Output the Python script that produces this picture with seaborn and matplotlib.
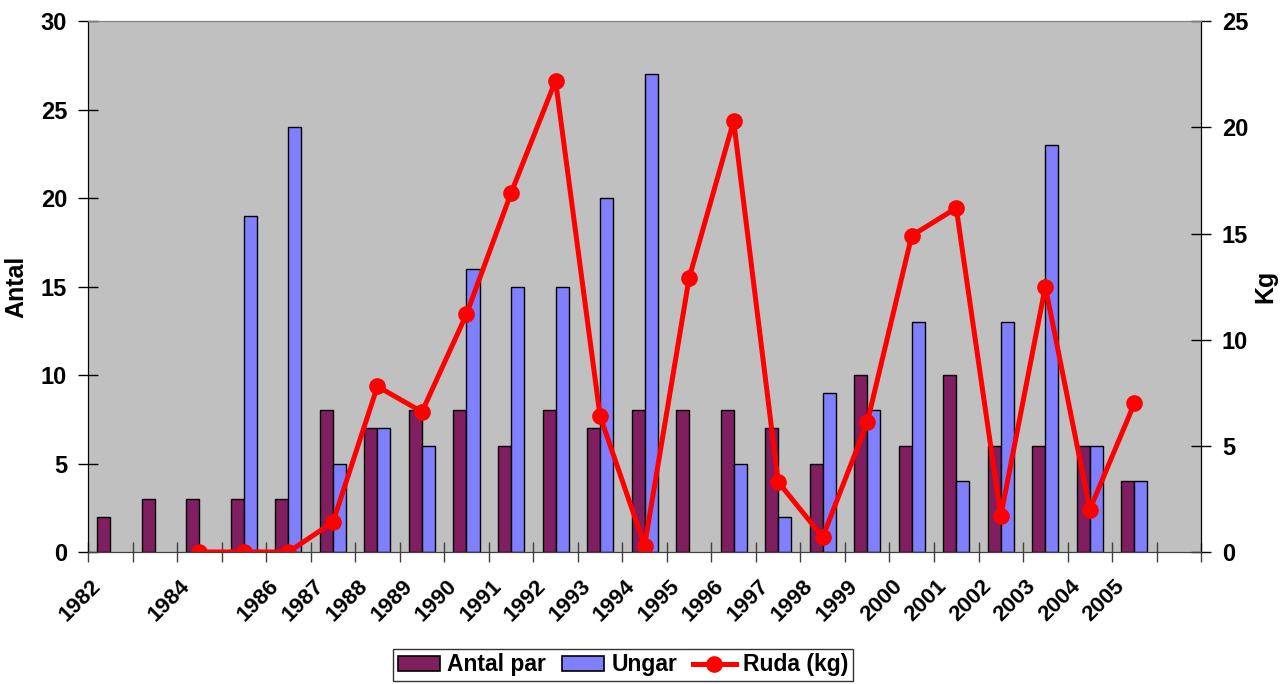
import matplotlib
matplotlib.use('Agg')
import matplotlib.pyplot as plt
import matplotlib.transforms as mtransforms
import pandas as pd
import seaborn as sns
from matplotlib.lines import Line2D
from matplotlib.patches import Patch

# Data (one slot per category, some slots have no label)
slots = list(range(25))
tick_labels = ['1982', '', '1984', '', '1986', '1987', '1988', '1989', '1990',
               '1991', '1992', '1993', '1994', '1995', '1996', '1997', '1998',
               '1999', '2000', '2001', '2002', '2003', '2004', '2005', '']
antal_par = [2, 3, 3, 3, 3, 8, 7, 8, 8, 6, 8, 7, 8, 8, 8, 7, 5, 10, 6, 10, 6, 6, 6, 4, None]
ungar = [None, None, None, 19, 24, 5, 7, 6, 16, 15, 15, 20, 27, None, 5, 2, 9, 8, 13, 4,
         13, 23, 6, 4, None]
ruda = [None, None, 0, 0, 0, 1.4, 7.8, 6.6, 11.2, 16.9, 22.2, 6.4, 0.3, 12.9, 20.3, 3.3,
        0.7, 6.1, 14.9, 16.2, 1.7, 12.5, 2.0, 7.0, None]

dark = '#7F1F5F'
blue = '#8080FF'
red = '#FF0000'

plt.rcParams['font.family'] = ['Liberation Sans', 'DejaVu Sans']
plt.rcParams['font.weight'] = 'bold'

df = pd.DataFrame({
    'slot': slots * 2,
    'serie': ['Antal par'] * len(slots) + ['Ungar'] * len(slots),
    'antal': pd.to_numeric(pd.Series(antal_par + ungar), errors='coerce'),
})

fig = plt.figure(figsize=(12.87, 6.84), dpi=100)
ax = fig.add_axes([0.0684, 0.193, 0.8649, 0.776])
ax.set_facecolor('#C0C0C0')

sns.barplot(data=df, x='slot', y='antal', hue='serie', order=slots,
            hue_order=['Antal par', 'Ungar'], palette=[dark, blue],
            width=0.585, saturation=1, edgecolor='black', linewidth=1,
            legend=False, ax=ax)

ax2 = ax.twinx()
sns.lineplot(x=slots, y=pd.Series(ruda, dtype=float), ax=ax2, color=red,
             linewidth=3.6, marker='o', markersize=12, markeredgewidth=0)

ax.set_xlim(-0.5, len(slots) - 0.5)
ax.set_ylim(0, 30)
ax2.set_ylim(0, 25)
ax.set_yticks(range(0, 31, 5))
ax2.set_yticks(range(0, 26, 5))

# labels at slot centres, tick marks between slots
ax.set_xticks(slots)
ax.set_xticklabels(tick_labels, rotation=45, ha='right', va='top',
                   rotation_mode='anchor', fontsize=16, fontweight='bold')
ax.set_xticks([s - 0.5 for s in slots] + [len(slots) - 0.5], minor=True)
ax.tick_params(axis='x', which='major', length=0, pad=17)
ax.tick_params(axis='x', which='minor', direction='inout', length=14, width=1, color='#404040')
shift = mtransforms.ScaledTranslation(-20 / 100, 0, fig.dpi_scale_trans)
for lab in ax.get_xticklabels():
    lab.set_transform(lab.get_transform() + shift)

ax.tick_params(axis='y', direction='inout', length=14, width=1, labelsize=17, pad=8)
ax2.tick_params(axis='y', direction='inout', length=14, width=1, labelsize=17, pad=8)
for lab in ax.get_yticklabels() + ax2.get_yticklabels():
    lab.set_fontweight('bold')

ax.set_xlabel('')
ax.set_ylabel('Antal', fontsize=18, fontweight='bold')
ax2.set_ylabel('Kg', fontsize=18, fontweight='bold')
ax.yaxis.set_label_coords(-0.054, 0.5)
ax2.yaxis.set_label_coords(1.047, 0.5)

for a in (ax, ax2):
    a.spines['top'].set_color('#808080')
    a.spines['left'].set_color('black')
    a.spines['right'].set_color('black')
    a.spines['bottom'].set_color('#404040')
ax.grid(False)
ax2.grid(False)

handles = [Patch(facecolor=dark, edgecolor='black', linewidth=1.2),
           Patch(facecolor=blue, edgecolor='black', linewidth=1.2),
           Line2D([], [], color=red, linewidth=3.6, marker='o', markersize=12,
                  markeredgewidth=0)]
leg = fig.legend(handles, ['Antal par', 'Ungar', 'Ruda (kg)'], loc='center',
                 bbox_to_anchor=(0.484, 0.028), ncol=3, frameon=True, fancybox=False,
                 edgecolor='black', prop={'size': 16.5, 'weight': 'bold'},
                 handlelength=1.85, handleheight=0.6, handletextpad=0.3,
                 columnspacing=0.7, borderpad=0.2, borderaxespad=0)
leg.get_frame().set_linewidth(1)

fig.savefig('out.png', dpi=100)
